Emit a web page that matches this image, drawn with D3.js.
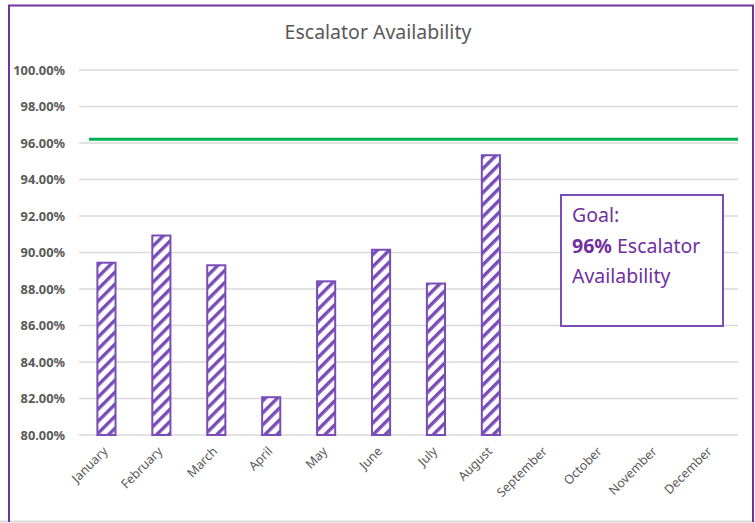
<!DOCTYPE html>
<html>
<head>
<meta charset="utf-8">
<script src="https://cdn.jsdelivr.net/npm/d3@7"></script>
<style>
  html, body { margin: 0; padding: 0; background: #fff; }
  svg { display: block; }
</style>
</head>
<body>
<svg id="chart" width="755" height="523"></svg>
<script>
const months = ["January","February","March","April","May","June","July","August","September","October","November","December"];
const availability = [89.44, 90.93, 89.30, 82.07, 88.42, 90.15, 88.30, 95.33, null, null, null, null];
const goal = 96.2;
const yTicks = [80, 82, 84, 86, 88, 90, 92, 94, 96, 98, 100];
const title = "Escalator Availability";
const noteLines = [["Goal:", ""], ["96%", " Escalator"], ["Availability", ""]];

const W = 755, H = 523;
const svg = d3.select("#chart");
const purple = "#7A4CB8";
const textPurple = "#7030A0";
const gray = "#595959";

// frame
svg.append("rect").attr("x", 0).attr("y", 0).attr("width", W).attr("height", H).attr("fill", "#fff");
svg.append("line").attr("x1", 0).attr("x2", W).attr("y1", 521.5).attr("y2", 521.5)
  .attr("stroke", "#d9d9d9").attr("stroke-width", 2);
svg.append("path").attr("d", `M9,522 V5.5 H753 V522`)
  .attr("fill", "none").attr("stroke", "#7030A0").attr("stroke-width", 2);

// pattern
const defs = svg.append("defs");
const pat = defs.append("pattern").attr("id", "hatch")
  .attr("patternUnits", "userSpaceOnUse").attr("width", 8.5).attr("height", 8.5)
  .attr("patternTransform", "rotate(45)");
pat.append("rect").attr("width", 8.5).attr("height", 8.5).attr("fill", "#fff");
pat.append("rect").attr("x", 0).attr("y", 0).attr("width", 3.4).attr("height", 8.5).attr("fill", purple);

const x = d3.scaleBand().domain(months).range([79, 738]).paddingInner(0.67).paddingOuter(0.335);
const y = d3.scaleLinear().domain([80, 100]).range([435, 70]);

// gridlines
svg.append("g").selectAll("line").data(yTicks).join("line")
  .attr("x1", x.range()[0]).attr("x2", x.range()[1])
  .attr("y1", d => y(d)).attr("y2", d => y(d))
  .attr("stroke", "#d9d9d9").attr("stroke-width", 1.5);

// y axis labels
const yAxis = d3.axisLeft(y).tickValues(yTicks).tickSize(0).tickPadding(0)
  .tickFormat(d => d3.format(".2f")(d) + "%");
const gy = svg.append("g").attr("transform", "translate(65,0)").call(yAxis);
gy.select(".domain").remove();
gy.selectAll("text").attr("fill", gray).attr("font-family", "Noto Sans, sans-serif")
  .attr("font-size", 12.8).attr("font-weight", "bold").attr("dy", "0.35em");

// bars
const data = months.map((m, i) => ({ m, v: availability[i] })).filter(d => d.v != null);
svg.append("g").selectAll("rect").data(data).join("rect")
  .attr("x", d => x(d.m)).attr("width", x.bandwidth())
  .attr("y", d => y(d.v)).attr("height", d => y(80) - y(d.v))
  .attr("fill", "url(#hatch)").attr("stroke", purple).attr("stroke-width", 2);

// goal line
svg.append("line").attr("x1", x.range()[0] + 10).attr("x2", x.range()[1])
  .attr("y1", y(goal)).attr("y2", y(goal))
  .attr("stroke", "#00B050").attr("stroke-width", 3);

// x labels
const xAxis = d3.axisBottom(x).tickSize(0).tickPadding(0);
const gx = svg.append("g").attr("transform", `translate(0,${y(80)})`).call(xAxis);
gx.select(".domain").remove();
gx.selectAll("text")
  .attr("fill", gray).attr("font-family", "Noto Sans, sans-serif").attr("font-size", 12.5)
  .attr("text-anchor", "end").attr("dy", 0).attr("y", 0)
  .attr("transform", "translate(2,17) rotate(-45)");

// title
svg.append("text").attr("x", 378).attr("y", 39).attr("text-anchor", "middle")
  .attr("fill", gray).attr("font-family", "Noto Sans, sans-serif").attr("font-size", 19.5)
  .text(title);

// annotation box
svg.append("rect").attr("x", 561).attr("y", 195).attr("width", 162).attr("height", 131)
  .attr("fill", "#fff").attr("stroke", purple).attr("stroke-width", 2);
const note = svg.append("g").attr("font-family", "Noto Sans, sans-serif").attr("font-size", 19.5).attr("fill", textPurple);
noteLines.forEach((ln, i) => {
  const t = note.append("text").attr("x", 572).attr("y", 222 + i * 30.5);
  t.append("tspan").attr("font-weight", i === 1 ? "bold" : "normal").text(ln[0]);
  if (ln[1]) t.append("tspan").text(ln[1]);
});
</script>
</body>
</html>
